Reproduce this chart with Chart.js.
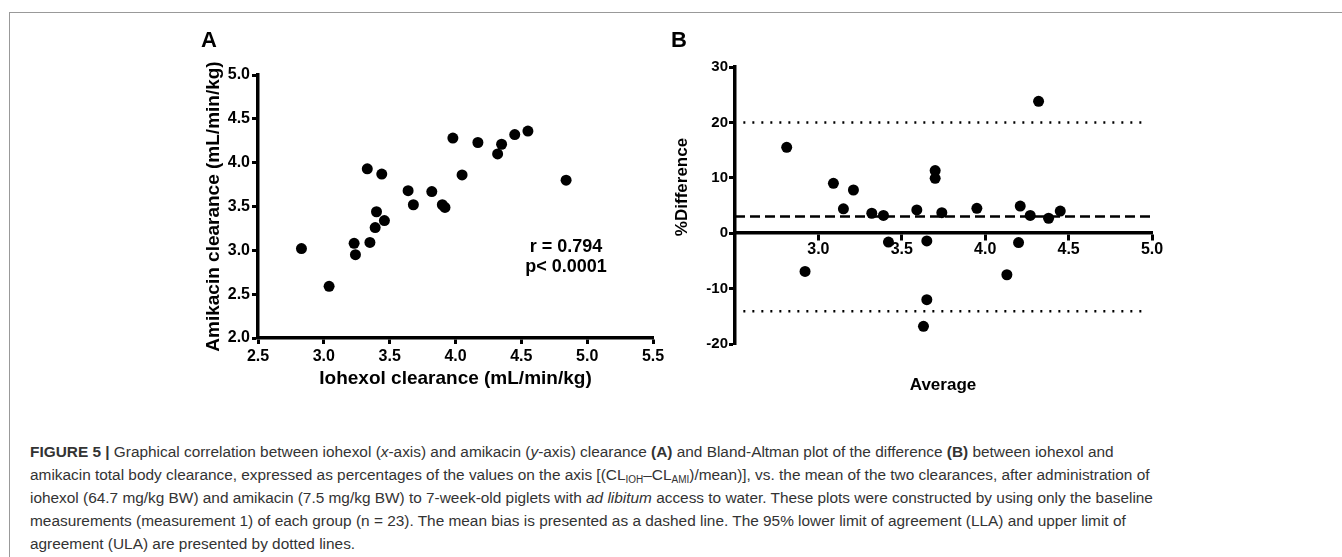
<!DOCTYPE html>
<html>
<head>
<meta charset="utf-8">
<script src="https://cdn.jsdelivr.net/npm/chart.js@4.4.1/dist/chart.umd.min.js"></script>
<style>
  body { margin: 0; background: #fff; width: 1342px; height: 557px; overflow: hidden; position: relative; font-family: 'Liberation Sans', Arial, sans-serif; }
  #frame { position: absolute; left: 9px; top: 12px; width: 1340px; height: 560px; border-left: 1.5px solid #999; border-top: 1.5px solid #999; }
  canvas { position: absolute; }
  .lbl { position: absolute; font-weight: bold; color: #000; white-space: nowrap; }
  #caption { position: absolute; left: 30px; top: 440px; font-size: 15.4px; line-height: 23px; color: #333; white-space: nowrap; }
  #caption sub { font-size: 10px; line-height: 0; vertical-align: -3px; }
</style>
</head>
<body>
<div id="frame"></div>
<canvas id="chartA" width="520" height="380" style="left:150px;top:20px"></canvas>
<canvas id="chartB" width="520" height="380" style="left:680px;top:20px"></canvas>

<div class="lbl" style="left:201px;top:27px;font-size:22px">A</div>
<div class="lbl" style="left:671px;top:27px;font-size:22px">B</div>
<div class="lbl" style="left:566px;top:236px;font-size:18px;line-height:20px;text-align:center;transform:translateX(-50%)">r = 0.794<br>p&lt; 0.0001</div>
<div class="lbl" style="left:682px;top:187px;font-size:17px;transform:translate(-50%,-50%) rotate(-90deg)">%Difference</div>
<div class="lbl" style="left:943px;top:385px;font-size:17px;transform:translate(-50%,-50%)">Average</div>

<div id="caption">
<b>FIGURE 5 |</b> Graphical correlation between iohexol (<i>x</i>-axis) and amikacin (<i>y</i>-axis) clearance <b>(A)</b> and Bland-Altman plot of the difference <b>(B)</b> between iohexol and<br>
amikacin total body clearance, expressed as percentages of the values on the axis [(CL<sub>IOH</sub>–CL<sub>AMI</sub>)/mean)], vs. the mean of the two clearances, after administration of<br>
iohexol (64.7 mg/kg BW) and amikacin (7.5 mg/kg BW) to 7-week-old piglets with <i>ad libitum</i> access to water. These plots were constructed by using only the baseline<br>
measurements (measurement 1) of each group (n = 23). The mean bias is presented as a dashed line. The 95% lower limit of agreement (LLA) and upper limit of<br>
agreement (ULA) are presented by dotted lines.
</div>

<script>
// panel A: clearance of each piglet (mL/min/kg)
const iohexolCl = [2.83, 3.04, 3.23, 3.24, 3.33, 3.35, 3.39, 3.40, 3.44, 3.46, 3.64, 3.68,
  3.82, 3.90, 3.92, 3.98, 4.05, 4.17, 4.32, 4.35, 4.45, 4.55, 4.84]
const amikacinCl = [3.02, 2.59, 3.08, 2.95, 3.93, 3.09, 3.26, 3.44, 3.87, 3.34, 3.68, 3.52,
  3.67, 3.52, 3.49, 4.28, 3.86, 4.23, 4.10, 4.21, 4.32, 4.36, 3.80]

// panel B: Bland-Altman
const avgCl = [2.81, 2.92, 3.09, 3.15, 3.21, 3.32, 3.39, 3.42, 3.59, 3.65, 3.65, 3.63,
  3.70, 3.70, 3.74, 3.95, 4.13, 4.20, 4.21, 4.27, 4.32, 4.38, 4.45]
const pctDiff = [15.5, -6.9, 9.0, 4.4, 7.8, 3.6, 3.2, -1.6, 4.2, -1.4, -12.0, -16.8,
  11.3, 9.9, 3.7, 4.5, -7.5, -1.7, 4.9, 3.2, 23.8, 2.7, 4.0]
const meanBias = 3.0
const upperLoA = 20.0
const lowerLoA = -14.1
const biasX = [2.5, 5.0]
const loaX = [2.55, 4.97]

const font = 'Liberation Sans, Arial, sans-serif'

function toPoints(xs, ys) {
  let pts = []
  for (let i = 0; i < xs.length; ++i) pts.push({x: xs[i], y: ys[i]})
  return pts
}

function axis(extra) {
  let a = {
    type: 'linear',
    grid: {drawOnChartArea: false, drawTicks: true, tickLength: 6, tickWidth: 3, tickColor: '#000'},
    border: {display: true, color: '#000', width: 3.5},
    ticks: {color: '#000', font: {family: font, size: 16, weight: 'bold'}}
  }
  return Object.assign(a, extra)
}

Chart.defaults.animation = false

new Chart(document.getElementById('chartA'), {
  type: 'scatter',
  data: {datasets: [{
    data: toPoints(iohexolCl, amikacinCl),
    backgroundColor: '#000', borderWidth: 0, pointRadius: 5.5
  }]},
  options: {
    responsive: false,
    devicePixelRatio: 1,
    layout: {padding: {left: 52, top: 55, right: 17, bottom: 10}},
    plugins: {legend: {display: false}, tooltip: {enabled: false}},
    scales: {
      x: axis({
        position: 'bottom', min: 2.5, max: 5.5,
        afterFit: (s) => { s.height = 52 },
        ticks: {stepSize: 0.5, padding: 3, color: '#000', font: {family: font, size: 16, weight: 'bold'}, callback: (v) => v.toFixed(1)},
        title: {display: true, text: 'Iohexol clearance (mL/min/kg)', color: '#000', padding: 0, font: {family: font, size: 19, weight: 'bold'}}
      }),
      y: axis({
        position: 'left', min: 2.0, max: 5.0,
        afterFit: (s) => { s.width = 56 },
        ticks: {stepSize: 0.5, padding: 2, color: '#000', font: {family: font, size: 16, weight: 'bold'}, callback: (v) => v.toFixed(1)},
        title: {display: true, text: 'Amikacin clearance (mL/min/kg)', color: '#000', padding: 0, font: {family: font, size: 19, weight: 'bold'}}
      })
    }
  }
})

new Chart(document.getElementById('chartB'), {
  type: 'scatter',
  data: {datasets: [
    {data: toPoints(avgCl, pctDiff), backgroundColor: '#000', borderWidth: 0, pointRadius: 5.5},
    {data: toPoints(biasX, [meanBias, meanBias]), showLine: true, pointRadius: 0,
      borderColor: '#000', borderWidth: 2.5, borderDash: [10, 5]},
    {data: toPoints(loaX, [upperLoA, upperLoA]), showLine: true, pointRadius: 0,
      borderColor: '#000', borderWidth: 2.5, borderDash: [2, 7]},
    {data: toPoints(loaX, [lowerLoA, lowerLoA]), showLine: true, pointRadius: 0,
      borderColor: '#000', borderWidth: 2.5, borderDash: [2, 7]}
  ]},
  options: {
    responsive: false,
    devicePixelRatio: 1,
    layout: {padding: {left: 15, top: 47, right: 48, bottom: 56}},
    plugins: {legend: {display: false}, tooltip: {enabled: false}},
    scales: {
      x: axis({
        position: {y: 0}, min: 2.5, max: 5.0,
        grid: {drawOnChartArea: false, drawTicks: true, tickLength: 6, tickWidth: 3,
          tickColor: (c) => (c.tick && c.tick.value === 2.5) ? 'rgba(0,0,0,0)' : '#000'},
        ticks: {stepSize: 0.5, padding: 1, color: '#000', font: {family: font, size: 16, weight: 'bold'},
          callback: (v) => v === 2.5 ? '' : v.toFixed(1)}
      }),
      y: axis({
        position: 'left', min: -20, max: 30,
        afterFit: (s) => { s.width = 40 },
        ticks: {stepSize: 10, padding: 1, color: '#000', font: {family: font, size: 15, weight: 'bold'}}
      })
    }
  }
})
</script>
</body>
</html>
